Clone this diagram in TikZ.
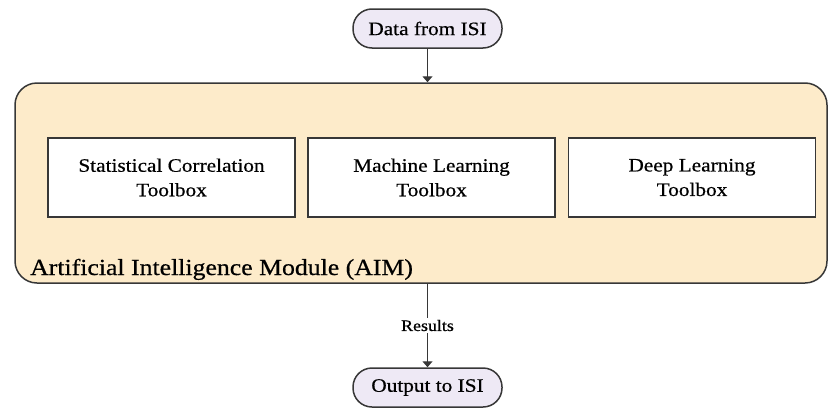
\documentclass[tikz,border=0pt]{standalone}
\usepackage{fontspec}
\setmainfont[FakeStretch=1.12,FakeBold=0.6]{Liberation Serif}
\usetikzlibrary{arrows.meta}
\definecolor{aimfill}{RGB}{253,235,202}
\definecolor{termfill}{RGB}{238,233,245}
\definecolor{edge}{RGB}{55,55,55}
\tikzset{
  term/.style={draw=edge, line width=1.5pt, fill=termfill, rounded corners=19pt,
    minimum width=149pt, minimum height=39pt, inner sep=0pt,
    font=\fontsize{19}{23}\selectfont},
  toolbox/.style={draw=edge, line width=1.5pt, fill=white, minimum width=247pt,
    minimum height=79pt, align=center, inner sep=0pt,
    font=\fontsize{19}{24.5}\selectfont},
  module/.style={draw=edge, line width=1.5pt, fill=aimfill, rounded corners=22pt,
    minimum width=812pt, minimum height=200pt, inner sep=0pt},
  flow/.style={draw=edge, line width=1.4pt, -{Triangle[length=6pt,width=10pt]}}
}
\begin{document}
\begin{tikzpicture}[x=1pt,y=-1pt]
  \useasboundingbox (0,0) rectangle (829,407);
  % input and output terminals
  \node[term] (src) at (427.5,28.5) {Data from ISI};
  \node[term] (dst) at (427.5,387.5) {Output to ISI};
  % the AI module and its toolboxes
  \node[module] (aim) at (421,183) {};
  \node[toolbox] (stat) at (171.5,177.5) {Statistical Correlation\\Toolbox};
  \node[toolbox] (ml) at (431.5,177.5) {Machine Learning\\Toolbox};
  \node[toolbox] (dl) at (692,177.5) {Deep Learning\\Toolbox};
  \node[anchor=base west, inner sep=0pt, font=\fontsize{23}{27}\selectfont]
    (aimlabel) at (30,275) {Artificial Intelligence Module (AIM)};
  % data flow
  \draw[flow] (src) -- (src |- aim.north);
  \draw[flow] (src |- aim.south) --
    node[fill=white, inner sep=1.5pt, font=\fontsize{16}{18}\selectfont] (res) {Results}
    (dst);
\end{tikzpicture}
\end{document}
